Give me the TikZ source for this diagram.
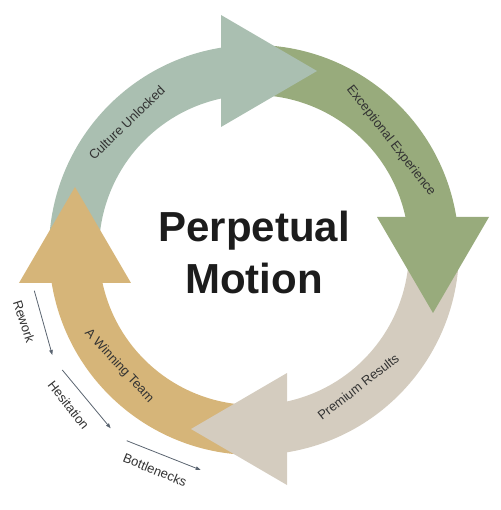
\documentclass[tikz,border=0pt]{standalone}
\usepackage{fontspec}
\setmainfont{Liberation Sans}
\usetikzlibrary{arrows.meta}
\definecolor{sage}{HTML}{AABFB1}
\definecolor{moss}{HTML}{98AB7C}
\definecolor{sand}{HTML}{D4CCBF}
\definecolor{ochre}{HTML}{D6B579}
\definecolor{ink}{HTML}{333333}
\definecolor{heading}{HTML}{1C1C1C}
\definecolor{drag}{HTML}{5A6470}
\tikzset{>/.tip={Triangle[length=5pt,width=3.6pt]},
  ringtext/.style={text=ink, inner sep=0pt, font=\fontsize{13}{13}\selectfont},
  friction/.style={draw=drag, line width=0.8pt}}

\begin{document}
\begin{tikzpicture}[x=1pt, y=1pt]
 \useasboundingbox (-254,-260) rectangle (246,250);

 \foreach \q/\c in {90/sage, 0/moss, -90/sand, -180/ochre}
  \fill[\c, rotate=\q] (95:205) arc[start angle=95, end angle=9, radius=205]
   -- (9:155) arc[start angle=9, end angle=95, radius=155] -- cycle;
 \foreach \q/\c in {90/sage, 0/moss, -90/sand, -180/ochre}
  \fill[\c, rotate=\q] (123,33) -- (235,33) -- (179,-63) -- cycle;

 \node[ringtext, rotate=44]  (culture)    at (135:180)   {Culture Unlocked};
 \node[ringtext, rotate=-52] (experience) at (38.5:175)  {Exceptional Experience};
 \node[ringtext, rotate=38]  (results)    at (-52.7:172) {Premium Results};
 \node[ringtext, rotate=-47] (team)       at (220.7:178) {A Winning Team};

 \node[text=heading, align=center, font=\bfseries\fontsize{42}{52}\selectfont] (title) at (0,-2.5) {Perpetual\\Motion};

 \coordinate (rework-a)     at (-219.7,-40.7);
 \coordinate (rework-b)     at (-201.7,-105);
 \coordinate (hesitation-a) at (-191.7,-120);
 \coordinate (hesitation-b) at (-143.3,-178.3);
 \coordinate (bottle-a)     at (-127.3,-190.7);
 \coordinate (bottle-b)     at (-53.3,-220);

 \draw[friction, ->] (rework-a) -- (rework-b);
 \draw[friction, ->] (hesitation-a) -- (hesitation-b);
 \draw[friction, ->] (bottle-a) -- (bottle-b);

 \node[ringtext, rotate=-72] (rework)      at (-230,-71.7)   {Rework};
 \node[ringtext, rotate=-52] (hesitation)  at (-185.3,-155)  {Hesitation};
 \node[ringtext, rotate=-22] (bottlenecks) at (-99,-220)     {Bottlenecks};
\end{tikzpicture}
\end{document}
